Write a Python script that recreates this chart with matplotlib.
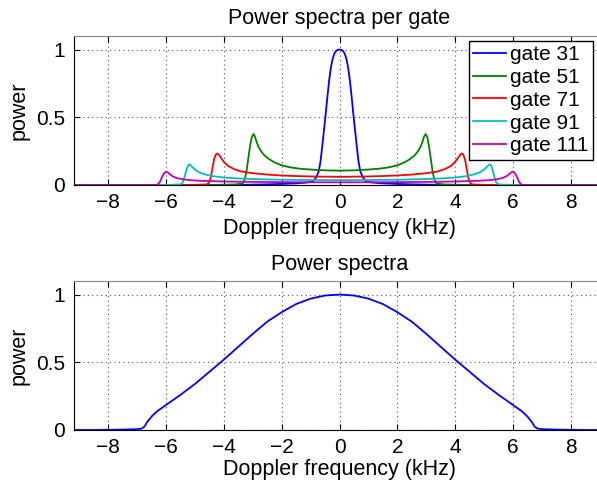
import matplotlib
matplotlib.use("Agg")
import matplotlib.pyplot as plt

plt.rcParams["font.family"] = ["Liberation Sans", "DejaVu Sans"]
plt.rcParams["font.size"] = 15

# Doppler spectra of each range gate (kHz, normalised power)
f_gate31 = [-9.2, -4.0, -3.5, -3.0, -2.5, -2.0, -1.5, -1.2, -1.0, -0.9, -0.8,
            -0.72, -0.66, -0.6, -0.54, -0.48, -0.42, -0.36, -0.3, -0.24,
            -0.18, -0.12, -0.06, 0.0, 0.06, 0.12, 0.18, 0.24, 0.3, 0.36,
            0.42, 0.48, 0.54, 0.6, 0.66, 0.72, 0.8, 0.9, 1.0, 1.2, 1.5, 2.0,
            2.5, 3.0, 3.5, 4.0, 9.2]
p_gate31 = [0.0, 0.0, 0.001, 0.003, 0.005, 0.008, 0.012, 0.017, 0.022, 0.03,
            0.06, 0.1, 0.17, 0.28, 0.4, 0.52, 0.65, 0.77, 0.865, 0.93, 0.97,
            0.99, 0.998, 1.0, 0.998, 0.99, 0.97, 0.93, 0.865, 0.77, 0.65, 0.52,
            0.4, 0.28, 0.17, 0.1, 0.06, 0.03, 0.022, 0.017, 0.012, 0.008,
            0.005, 0.003, 0.001, 0.0, 0.0]

f_gate51 = [-9.2, -4.5, -3.6, -3.35, -3.28, -3.22, -3.16, -3.1, -3.04, -2.98,
            -2.93, -2.87, -2.8, -2.7, -2.58, -2.43, -2.25, -2.0, -1.7, -1.4,
            -1.0, -0.5, 0.0, 0.5, 1.0, 1.4, 1.7, 2.0, 2.25, 2.43, 2.58, 2.7,
            2.8, 2.87, 2.93, 2.98, 3.04, 3.1, 3.16, 3.22, 3.28, 3.35, 3.6,
            4.5, 9.2]
p_gate51 = [0.0, 0.0, 0.004, 0.012, 0.04, 0.1, 0.19, 0.28, 0.35, 0.376, 0.36,
            0.32, 0.28, 0.245, 0.215, 0.19, 0.167, 0.145, 0.13, 0.121, 0.114,
            0.108, 0.106, 0.108, 0.114, 0.121, 0.13, 0.145, 0.167, 0.19,
            0.215, 0.245, 0.28, 0.32, 0.36, 0.376, 0.35, 0.28, 0.19, 0.1,
            0.04, 0.012, 0.004, 0.0, 0.0]

f_gate71 = [-9.2, -5.2, -4.6, -4.52, -4.46, -4.4, -4.34, -4.28, -4.23, -4.18,
            -4.1, -4.0, -3.85, -3.65, -3.4, -3.0, -2.5, -2.0, -1.5, -1.0, 0.0,
            1.0, 1.5, 2.0, 2.5, 3.0, 3.4, 3.65, 3.85, 4.0, 4.1, 4.18, 4.23,
            4.28, 4.34, 4.4, 4.46, 4.52, 4.6, 5.2, 9.2]
p_gate71 = [0.0, 0.0, 0.004, 0.015, 0.05, 0.12, 0.19, 0.225, 0.233, 0.225,
            0.2, 0.17, 0.14, 0.118, 0.1, 0.087, 0.077, 0.07, 0.066, 0.063,
            0.06, 0.063, 0.066, 0.07, 0.077, 0.087, 0.1, 0.118, 0.14, 0.17,
            0.2, 0.225, 0.233, 0.225, 0.19, 0.12, 0.05, 0.015, 0.004, 0.0, 0.0]

f_gate91 = [-9.2, -6.0, -5.5, -5.42, -5.36, -5.3, -5.24, -5.2, -5.16, -5.08,
            -4.98, -4.85, -4.65, -4.4, -4.0, -3.5, -3.0, -2.0, -1.0, 0.0, 1.0,
            2.0, 3.0, 3.5, 4.0, 4.4, 4.65, 4.85, 4.98, 5.08, 5.16, 5.2, 5.24,
            5.3, 5.36, 5.42, 5.5, 6.0, 9.2]
p_gate91 = [0.0, 0.0, 0.004, 0.02, 0.06, 0.11, 0.145, 0.152, 0.148, 0.13,
            0.11, 0.093, 0.078, 0.066, 0.055, 0.048, 0.044, 0.039, 0.037,
            0.036, 0.037, 0.039, 0.044, 0.048, 0.055, 0.066, 0.078, 0.093,
            0.11, 0.13, 0.148, 0.152, 0.145, 0.11, 0.06, 0.02, 0.004, 0.0, 0.0]

f_gate111 = [-9.2, -6.4, -6.3, -6.22, -6.14, -6.06, -6.0, -5.95, -5.87, -5.78,
             -5.65, -5.45, -5.2, -4.8, -4.2, -3.5, -2.5, -1.0, 0.0, 1.0, 2.5,
             3.5, 4.2, 4.8, 5.2, 5.45, 5.65, 5.78, 5.87, 5.95, 6.0, 6.06,
             6.14, 6.22, 6.3, 6.4, 9.2]
p_gate111 = [0.0, 0.0, 0.003, 0.02, 0.06, 0.09, 0.098, 0.094, 0.08, 0.065,
             0.052, 0.043, 0.036, 0.031, 0.027, 0.024, 0.022, 0.02, 0.02, 0.02,
             0.022, 0.024, 0.027, 0.031, 0.036, 0.043, 0.052, 0.065, 0.08,
             0.094, 0.098, 0.09, 0.06, 0.02, 0.003, 0.0, 0.0]

gate_labels = ["gate 31", "gate 51", "gate 71", "gate 91", "gate 111"]
gate_colors = ["#0000ff", "#008000", "#ff0000", "#00bfbf", "#bf00bf"]

# summed spectrum over all gates
f_total = [-9.2, -8.5, -7.5, -7.0, -6.85, -6.75, -6.65, -6.5, -6.3, -6.0,
           -5.5, -5.0, -4.5, -4.0, -3.5, -3.0, -2.5, -2.0, -1.5, -1.0, -0.5,
           0.0, 0.5, 1.0, 1.5, 2.0, 2.5, 3.0, 3.5, 4.0, 4.5, 5.0, 5.5, 6.0,
           6.3, 6.5, 6.65, 6.75, 6.85, 7.0, 7.5, 8.5, 9.2]
p_total = [0.0, 0.0, 0.003, 0.006, 0.01, 0.025, 0.06, 0.1, 0.14, 0.185,
           0.26, 0.34, 0.43, 0.52, 0.615, 0.71, 0.8, 0.87, 0.93, 0.97, 0.993,
           1.0, 0.993, 0.97, 0.93, 0.87, 0.8, 0.71, 0.615, 0.52, 0.43, 0.34,
           0.26, 0.185, 0.14, 0.1, 0.06, 0.025, 0.01, 0.006, 0.003, 0.0, 0.0]

xticks = [-8, -6, -4, -2, 0, 2, 4, 6, 8]
yticks = [0, 0.5, 1]


def style_axes(ax, xpad):
    ax.set_xlim(-9.2, 9.2)
    ax.set_ylim(0, 1.1)
    ax.set_xticks(xticks)
    ax.set_yticks(yticks)
    ax.set_yticklabels(["0", "0.5", "1"])
    ax.tick_params(direction="in", top=True, right=True, length=4,
                   width=0.8, pad=6, labelsize=15)
    ax.grid(True, color="#555555", linestyle=(0, (1, 3)), linewidth=0.8)
    ax.spines["top"].set_color("#888888")
    ax.spines["right"].set_color("#888888")
    ax.set_xlabel("Doppler frequency (kHz)", fontsize=15.5, labelpad=xpad)
    ax.set_ylabel("power", fontsize=15.5, labelpad=5)


fig = plt.figure(figsize=(5.97, 4.82), dpi=100)
ax1 = fig.add_axes([0.1233, 0.6162, 0.8908, 0.3091])
ax2 = fig.add_axes([0.1233, 0.1079, 0.8908, 0.3091])

gate_f = [f_gate31, f_gate51, f_gate71, f_gate91, f_gate111]
gate_p = [p_gate31, p_gate51, p_gate71, p_gate91, p_gate111]
for f, p, lab, col in zip(gate_f, gate_p, gate_labels, gate_colors):
    ax1.plot(f, p, color=col, linewidth=1.3, label=lab)
style_axes(ax1, 4)
ax1.set_title("Power spectra per gate", fontsize=15.5, pad=9)
ax1.legend(loc="upper right", bbox_to_anchor=(592.7 / 597, 1 - 40.7 / 482),
           bbox_transform=fig.transFigure, borderaxespad=0, fancybox=False,
           edgecolor="black", framealpha=1, fontsize=15, handlelength=1.55,
           handletextpad=0.2, labelspacing=0.18, borderpad=0.22)

ax2.plot(f_total, p_total, color="#0000ff", linewidth=1.3)
style_axes(ax2, 1.5)
ax2.set_title("Power spectra", fontsize=15.5, pad=8)

fig.savefig("out.png", dpi=100)
